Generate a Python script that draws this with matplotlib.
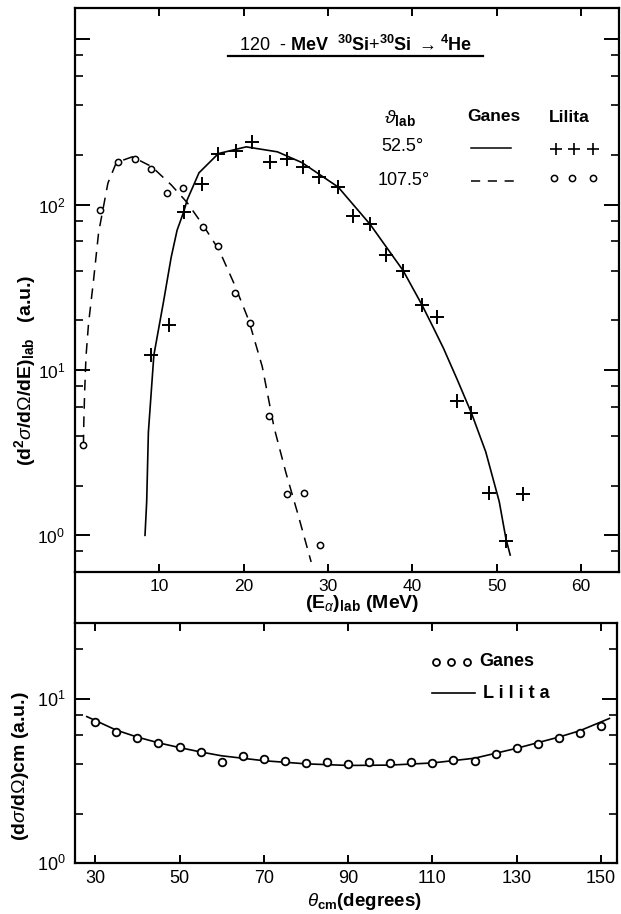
import matplotlib
matplotlib.use("Agg")
import matplotlib.pyplot as plt
from matplotlib import font_manager
from matplotlib.lines import Line2D
from matplotlib.ticker import LogLocator, FixedLocator, FuncFormatter, NullFormatter

names = {f.name for f in font_manager.fontManager.ttflist}
narrow = "Liberation Sans Narrow" if "Liberation Sans Narrow" in names else "Liberation Sans"

plt.rcParams["font.family"] = [narrow, "DejaVu Sans"]
plt.rcParams["mathtext.fontset"] = "custom"
plt.rcParams["mathtext.rm"] = narrow
plt.rcParams["mathtext.it"] = narrow + ":italic"
plt.rcParams["mathtext.bf"] = narrow + ":bold"
plt.rcParams["mathtext.sf"] = narrow

# alpha spectra, 52.5 deg (Lilita crosses / Ganes solid)
e_plus = [9.0, 11.1, 12.9, 15.0, 17.0, 19.1, 21.0, 23.1, 25.1, 27.0, 28.9, 31.2,
          33.0, 35.0, 36.9, 38.9, 41.1, 42.9, 45.3, 47.0, 49.1, 51.1, 53.1]
y_plus = [12.3, 18.7, 91, 134, 204, 210, 241, 182, 190, 169, 148, 128,
          85, 76, 50, 40, 24.7, 21, 6.5, 5.5, 1.8, 0.93, 1.78]
e_solid = [8.3, 8.5, 8.7, 9.35, 10.5, 11.4, 12.1, 12.9, 13.3, 14.7, 17.0, 20.3,
           24.0, 26.9, 31.2, 35.0, 38.9, 41.1, 42.5, 43.7, 45.3, 47.0, 48.7,
           50.3, 51.1, 51.6]
y_solid = [1.0, 1.6, 4.2, 12.3, 26, 48, 70, 91, 107, 156, 204, 224,
           209, 180, 128, 76, 40, 25, 18, 13.5, 8.8, 5.5, 3.2,
           1.6, 0.95, 0.76]

# alpha spectra, 107.5 deg (Lilita circles / Ganes dashed)
e_circ = [1.0, 3.0, 5.1, 7.1, 9.0, 10.95, 12.8, 15.2, 17.0, 19.0, 20.8, 23.0,
          25.1, 27.1, 29.0]
y_circ = [3.5, 93, 182, 190, 165, 118, 127, 73, 56, 29.3, 19.3, 5.25,
          1.77, 1.8, 0.88]
e_dash = [1.0, 1.05, 1.15, 1.3, 1.6, 2.2, 2.8, 3.9, 4.9, 6.8, 9.1, 11.4, 13.3,
          15.2, 17.1, 18.9, 20.6, 22.2, 23.6, 25.0, 26.4, 28.0]
y_dash = [3.5, 5, 7.5, 12, 19, 35, 68, 135, 180, 195, 170, 132, 103,
          75, 53, 33, 20, 10.5, 4.5, 2.4, 1.36, 0.69]

# angular distribution
theta = [30, 35, 40, 45, 50, 55, 60, 65, 70, 75, 80, 85, 90, 95, 100, 105,
         110, 115, 120, 125, 130, 135, 140, 145, 150]
ganes_cm = [7.2, 6.3, 5.75, 5.42, 5.07, 4.75, 4.11, 4.5, 4.29, 4.17, 4.09, 4.11,
            4.03, 4.11, 4.06, 4.11, 4.09, 4.26, 4.2, 4.6, 5.0, 5.3, 5.75, 6.17, 6.87]
theta_fit = [28, 35, 40, 45, 50, 55, 60, 70, 80, 90, 100, 110, 120, 130, 140, 145, 152]
lilita_cm = [7.8, 6.45, 5.85, 5.4, 5.05, 4.75, 4.5, 4.2, 4.02, 3.93, 3.95, 4.07,
             4.35, 5.0, 5.85, 6.4, 7.6]

W, H = 621, 914
fig = plt.figure(figsize=(W / 100, H / 100), dpi=100)


def box(l, r, t, b):
    return [l / W, 1 - b / H, (r - l) / W, (b - t) / H]


ax1 = fig.add_axes(box(75, 619, 8, 572))
ax2 = fig.add_axes(box(75, 617, 623, 863))

dec_labels = {1: r"10$^{0}$", 10: r"10$^{1}$", 100: r"10$^{2}$"}


def dec_fmt(v, pos):
    for k, s in dec_labels.items():
        if abs(v - k) < 1e-6 * k:
            return s
    return ""


for ax in (ax1, ax2):
    ax.set_yscale("log")
    for s in ax.spines.values():
        s.set_linewidth(1.6)
    ax.yaxis.set_major_locator(LogLocator(base=10))
    ax.yaxis.set_minor_locator(LogLocator(base=10, subs=[2, 4, 6, 8]))
    ax.yaxis.set_major_formatter(FuncFormatter(dec_fmt))
    ax.yaxis.set_minor_formatter(NullFormatter())
    ax.tick_params(axis="y", which="major", direction="in", length=11, width=1.4,
                   right=True, labelsize=12.5, pad=7)
    ax.tick_params(axis="y", which="minor", direction="in", length=5.5, width=1.2,
                   right=True)
    ax.tick_params(axis="x", which="major", direction="in", length=6, width=1.4,
                   top=True, labelsize=12.5)

# upper panel
ax1.plot(e_solid, y_solid, color="k", lw=1.2)
ax1.plot(e_dash, y_dash, color="k", lw=1.1, dashes=(7, 5))
ax1.plot(e_plus, y_plus, ls="none", marker="+", ms=9.5, mew=1.4, color="k")
ax1.plot(e_circ, y_circ, ls="none", marker="o", ms=4.5, mew=1.1, mfc="white", mec="k")
ax1.set_xlim(0, 64.5)
ax1.set_ylim(0.6, 1550)
ax1.xaxis.set_major_locator(FixedLocator([10, 20, 30, 40, 50, 60]))
ax1.tick_params(axis="x", pad=5)

ax1.text(0.515, 0.934,
         r"120  - $\mathbf{MeV}$  $^{\mathbf{30}}\mathbf{Si}$+$^{\mathbf{30}}\mathbf{Si}$ $\rightarrow$$^{\mathbf{4}}\mathbf{He}$",
         transform=ax1.transAxes, ha="center", va="center", fontsize=13)
ax1.plot([0.281, 0.75], [0.915, 0.915], transform=ax1.transAxes, color="k", lw=1.6)

ax1.text(0.597, 0.805, r"$\vartheta_{\mathbf{lab}}$", transform=ax1.transAxes,
         ha="center", va="center", fontsize=14)
ax1.text(0.770, 0.808, "Ganes", transform=ax1.transAxes, ha="center", va="center",
         fontsize=12.5, fontweight="bold")
ax1.text(0.908, 0.806, "Lilita", transform=ax1.transAxes, ha="center", va="center",
         fontsize=12.5, fontweight="bold")
ax1.text(0.601, 0.754, "52.5°", transform=ax1.transAxes, ha="center", va="center",
         fontsize=13)
ax1.text(0.605, 0.695, "107.5°", transform=ax1.transAxes, ha="center", va="center",
         fontsize=13)
ax1.plot([0.728, 0.801], [0.752, 0.752], transform=ax1.transAxes, color="k", lw=1.1)
ax1.plot([0.728, 0.809], [0.693, 0.693], transform=ax1.transAxes, color="k", lw=1.1,
         dashes=(6, 5))
ax1.plot([0.884, 0.917, 0.952], [0.750] * 3, transform=ax1.transAxes, ls="none",
         marker="+", ms=8, mew=1.2, color="k")
ax1.plot([0.881, 0.914, 0.952], [0.698] * 3, transform=ax1.transAxes, ls="none",
         marker="o", ms=4.5, mew=1.1, mfc="white", mec="k")

# lower panel
ax2.plot(theta_fit, lilita_cm, color="k", lw=1.2)
ax2.plot(theta, ganes_cm, ls="none", marker="o", ms=5.5, mew=1.3, mfc="white", mec="k")
ax2.set_xlim(25.2, 153.8)
ax2.set_ylim(1, 29)
ax2.xaxis.set_major_locator(FixedLocator([30, 50, 70, 90, 110, 130, 150]))
ax2.tick_params(axis="x", pad=5, labelsize=13)
ax2.tick_params(axis="y", labelsize=13)

ax2.plot([0.666, 0.694, 0.723], [0.8375] * 3, transform=ax2.transAxes, ls="none",
         marker="o", ms=5, mew=1.3, mfc="white", mec="k")
ax2.text(0.745, 0.8375, "Ganes", transform=ax2.transAxes, ha="left", va="center",
         fontsize=13, fontweight="bold")
ax2.plot([0.659, 0.738], [0.708, 0.708], transform=ax2.transAxes, color="k", lw=1.2)
ax2.text(0.753, 0.708, "L i l i t a", transform=ax2.transAxes, ha="left", va="center",
         fontsize=13, fontweight="bold")

# axis titles
fig.text(362 / W, 1 - 603 / H, r"(E$_{\alpha}$)$_{\mathbf{lab}}$ (MeV)", ha="center",
         va="center", fontsize=14, fontweight="bold")
fig.text(365 / W, 1 - 902 / H, r"$\theta_{\mathbf{cm}}$(degrees)", ha="center",
         va="center", fontsize=13.5, fontweight="bold")
fig.text(25 / W, 1 - 370 / H,
         r"(d$^{\mathbf{2}}\sigma$/d$\Omega$/dE)$_{\mathbf{lab}}$   (a.u.)",
         rotation=90, ha="center", va="center", fontsize=14, fontweight="bold")
fig.text(21 / W, 1 - 766 / H, r"(d$\sigma$/d$\Omega$)cm (a.u.)", rotation=90,
         ha="center", va="center", fontsize=14, fontweight="bold")

# left frame line joining the two panels
fig.add_artist(Line2D([75 / W, 75 / W], [1 - 572 / H, 1 - 623 / H], color="k", lw=1.6))

fig.savefig("out.png", dpi=100)
